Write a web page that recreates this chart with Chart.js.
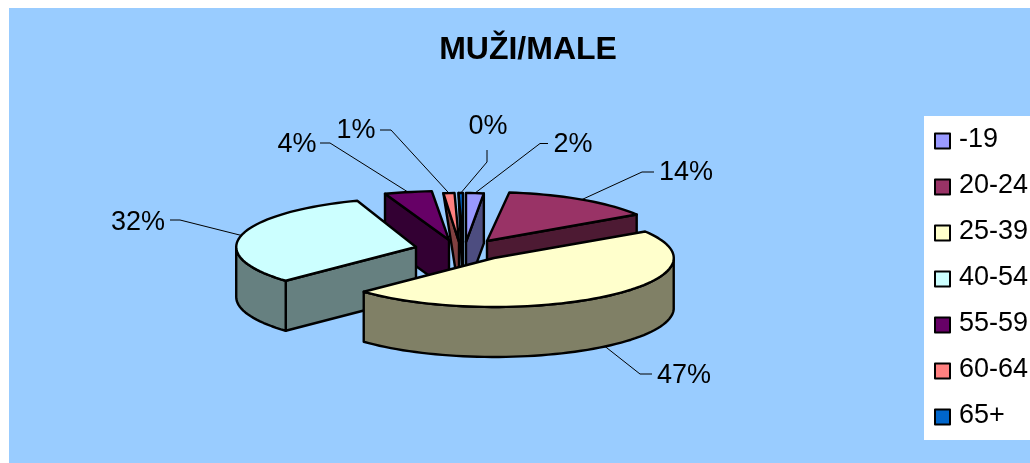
<!DOCTYPE html>
<html>
<head>
<meta charset="utf-8">
<style>html,body{margin:0;padding:0;background:#fff}canvas{display:block}</style>
<script src="https://cdn.jsdelivr.net/npm/chart.js@4"></script>
</head>
<body>
<canvas id="c" width="1030" height="463"></canvas>
<script>
const categories = ['-19', '20-24', '25-39', '40-54', '55-59', '60-64', '65+'];
const shares = [2.0, 13.9, 47.0, 31.8, 3.9, 1.0, 0.4];
const colours = ['#9999FF', '#993366', '#FFFFCC', '#CCFFFF', '#660066', '#FF8080', '#0066CC'];
const sideColours = ['#4D4D80', '#4D1A33', '#808066', '#668080', '#330033', '#804040', '#003366'];
const chartTitle = 'MUŽI/MALE';

// Presentation of the 3D exploded pie (style only)
const PIE_CENTRE = {x: 465, y: 245};
const RADIUS = 178, SQUASH = 0.275, DEPTH = 50;
const explode = [[1, -3], [22, -4], [29, 13], [-49, 2], [-16, -5], [-6, -3], [-2, -3]];
const widthScale = [0.8, 1, 1.01, 1.01, 1.1, 1, 1];
const paintOrder = [1, 0, 6, 5, 4, 3, 2];
const thinSide = [false, false, false, false, false, true, true];
const labelBoxes = [[573, 145], [686, 173], [684, 376], [138, 223], [297, 145], [356, 131], [488, 127]];
const leaderElbows = [[[540, 143.5], [548, 143.5]], [[642, 172], [654, 172]], [[640, 374], [652, 374]],
  [[180, 220], [170, 220]], [[330, 143], [320, 143]], [[391, 130], [380, 130]], [[487, 162], [487, 150]]];

const pie3d = {
  id: 'pie3d',
  beforeDraw(chart) {
    const c = chart.ctx;
    c.save();
    c.fillStyle = '#fff'; c.fillRect(0, 0, 1030, 463);
    c.fillStyle = '#99CCFF'; c.fillRect(9, 8, 1021, 455);
    c.fillStyle = '#fff'; c.fillRect(924, 116, 106, 324);
    c.restore();
  },
  afterLayout(chart) {
    const lg = chart.legend, pad = lg.options.labels.padding;
    lg.left = 934 - pad; lg.right = lg.left + lg.width;
    lg.top = 126 - pad; lg.bottom = lg.top + lg.height;
    const t = chart.titleBlock;
    t.left = 26; t.right = 1030;
  },
  beforeDatasetDraw(chart, args) {
    const c = chart.ctx, meta = chart.getDatasetMeta(args.index);
    const path = pts => { c.beginPath(); pts.forEach((p, i) => i ? c.lineTo(p[0], p[1]) : c.moveTo(p[0], p[1])); c.closePath(); };
    const ink = (fill) => {
      c.fillStyle = fill; c.fill();
      c.strokeStyle = '#000'; c.lineWidth = 2.4; c.lineJoin = 'round'; c.stroke();
    };
    const geom = i => {
      const a = meta.data[i];
      const cx = PIE_CENTRE.x + explode[i][0], cy = PIE_CENTRE.y + explode[i][1];
      const at = ang => [cx + widthScale[i] * a.outerRadius * Math.cos(ang), cy + SQUASH * a.outerRadius * Math.sin(ang)];
      return {a, cx, cy, at};
    };
    paintOrder.forEach(i => {
      const {a, cx, cy, at} = geom(i);
      const s = a.startAngle, e = a.endAngle, down = p => [p[0], p[1] + DEPTH];
      const apex = [cx, cy], n = Math.max(2, Math.ceil((e - s) / 0.04));
      const rim = [], frontRim = [];
      for (let k = 0; k <= n; k++) {
        const ang = s + (e - s) * k / n, p = at(ang);
        rim.push(p);
        if (Math.sin(ang) >= 0) frontRim.push(p);
      }
      if (thinSide[i]) {
        path([apex, rim[0], down(apex)]); ink(sideColours[i]);
      } else {
        if (Math.sin(s - Math.PI / 2) > 0) { path([apex, rim[0], down(rim[0]), down(apex)]); ink(sideColours[i]); }
        if (Math.sin(e + Math.PI / 2) > 0) { path([apex, rim[n], down(rim[n]), down(apex)]); ink(sideColours[i]); }
        if (frontRim.length > 1) { path(frontRim.concat(frontRim.slice().reverse().map(down))); ink(sideColours[i]); }
      }
      // top face: the library's own arc, squashed and moved
      c.save();
      c.translate(cx, cy);
      c.scale(widthScale[i], SQUASH);
      c.translate(-a.x, -a.y);
      a.draw(c);
      c.restore();
      path([apex].concat(rim));
      c.strokeStyle = '#000'; c.lineWidth = 2.4; c.lineJoin = 'round'; c.stroke();
    });
    // percentage labels and leader lines
    const total = shares.reduce((x, y) => x + y, 0);
    c.save();
    c.font = '27px "Liberation Sans", Arial, sans-serif';
    c.textAlign = 'center'; c.textBaseline = 'middle';
    shares.forEach((v, i) => {
      const {a, at} = geom(i);
      const mid = (a.startAngle + a.endAngle) / 2, p = at(mid);
      if (Math.sin(mid) > 0.3) p[1] += DEPTH;
      c.beginPath(); c.moveTo(p[0], p[1]);
      leaderElbows[i].forEach(q => c.lineTo(q[0], q[1]));
      c.strokeStyle = '#000'; c.lineWidth = 1; c.stroke();
      c.fillStyle = '#000';
      c.fillText(Math.round(v / total * 100) + '%', labelBoxes[i][0], labelBoxes[i][1]);
    });
    c.restore();
    return false;
  },
  afterDraw(chart) {
    const c = chart.ctx, lg = chart.legend, pad = lg.options.labels.padding;
    categories.forEach((_, i) => {
      const mid = lg.top + pad + (27 + pad) * i + 13.5;
      c.fillStyle = colours[i]; c.strokeStyle = '#000'; c.lineWidth = 2;
      c.fillRect(935, mid - 6, 15, 15);
      c.strokeRect(935, mid - 6, 15, 15);
    });
  }
};

new Chart(document.getElementById('c'), {
  type: 'pie',
  data: {labels: categories, datasets: [{data: shares, backgroundColor: colours, borderWidth: 0}]},
  options: {
    responsive: false,
    animation: false,
    radius: RADIUS,
    plugins: {
      tooltip: {enabled: false},
      title: {display: true, text: chartTitle, color: '#000',
        font: {family: '"Liberation Sans", Arial, sans-serif', size: 32, weight: 'bold'},
        padding: {top: 31, bottom: 10}},
      legend: {position: 'right', align: 'start',
        labels: {color: '#000', boxWidth: 11.5, boxHeight: 10, padding: 19,
          font: {family: '"Liberation Sans", Arial, sans-serif', size: 27}}}
    }
  },
  plugins: [pie3d]
});
</script>
</body>
</html>
